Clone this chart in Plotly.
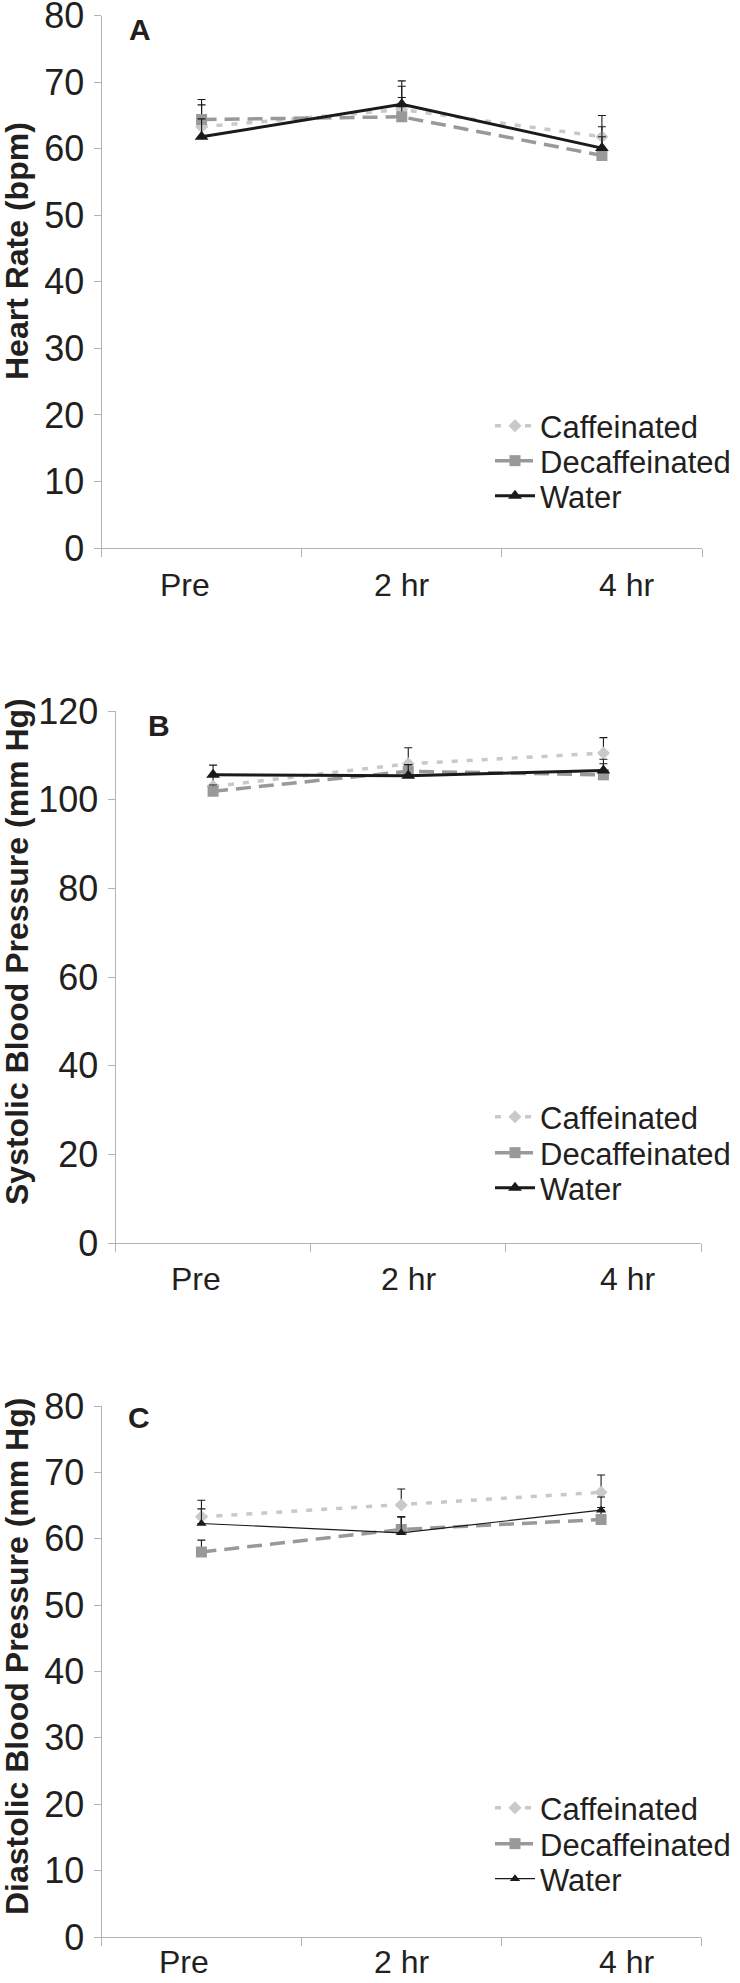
import plotly.graph_objects as go

W, H = 740, 1983

categories = ["Pre", "2 hr", "4 hr"]
series_names = ["Caffeinated", "Decaffeinated", "Water"]

# Panel A - Heart rate (bpm)
hr_caf = [63.3, 65.9, 61.8]
hr_decaf = [64.4, 64.8, 59.0]
hr_water = [61.8, 66.7, 60.1]
hr_caf_err = [3.3, 3.5, 3.2]
hr_decaf_err = [3.0, 2.9, 2.8]
hr_water_err = [2.7, 3.5, 3.2]

# Panel B - Systolic blood pressure (mm Hg)
sbp_caf = [103.0, 108.1, 110.5]
sbp_decaf = [101.9, 106.4, 105.6]
sbp_water = [105.6, 105.4, 106.6]
sbp_caf_err = [2.4, 3.6, 3.5]
sbp_decaf_err = [1.4, 1.5, 2.5]
sbp_water_err = [2.2, 2.5, 2.5]

# Panel C - Diastolic blood pressure (mm Hg)
dbp_caf = [63.3, 65.1, 67.0]
dbp_decaf = [58.0, 61.4, 62.9]
dbp_water = [62.3, 60.9, 64.3]
dbp_caf_err = [2.5, 2.4, 2.6]
dbp_decaf_err = [1.8, 1.9, 1.8]
dbp_water_err = [2.2, 2.4, 2.0]

panel_letters = ["A", "B", "C"]
y_titles = ["Heart Rate (bpm)", "Systolic Blood Pressure (mm Hg)", "Diastolic Blood Pressure (mm Hg)"]
y_ranges = [[0, 80], [0, 120], [0, 80]]
y_dticks = [10, 20, 10]

FONT = "Liberation Sans, Arial, Helvetica, sans-serif"
TXT = "#231f20"
AXC = "#b3b3b3"

# pixel geometry (top/bottom of plot area, left/right)
panels_px = [
    dict(top=15.7, bottom=548, left=101.5, right=702),
    dict(top=711, bottom=1243, left=115.5, right=701),
    dict(top=1406, bottom=1937, left=101.5, right=701),
]

def px(x):
    return x / W

def py(y):
    return 1 - y / H

data = [
    (hr_caf, hr_decaf, hr_water, hr_caf_err, hr_decaf_err, hr_water_err),
    (sbp_caf, sbp_decaf, sbp_water, sbp_caf_err, sbp_decaf_err, sbp_water_err),
    (dbp_caf, dbp_decaf, dbp_water, dbp_caf_err, dbp_decaf_err, dbp_water_err),
]

styles = [
    dict(color="#c9c9c9", dash="6px,9px", width=3.5, symbol="diamond", msize=10),
    dict(color="#999999", dash="15px,8px", width=3.5, symbol="square", msize=11),
    dict(color="#1a1a1a", dash="solid", width=3.0, symbol="triangle-up", msize=12),
]

legend_item_y = [
    [426, 461, 496],
    [1117, 1153, 1188],
    [1808, 1844, 1879],
]

fig = go.Figure()
layout = {}
annotations = []
xs = list(range(len(categories)))
legend_idx = 0

for p in range(3):
    sfx = "" if p == 0 else str(p + 1)
    geo = panels_px[p]
    vals = data[p][:3]
    errs = data[p][3:]
    for s in range(3):
        st = dict(styles[s])
        lw = st["width"]
        ms = st["msize"]
        if p == 2 and s == 2:
            lw = 1.2
            ms = 9
        legend_idx += 1
        lname = "legend" if legend_idx == 1 else "legend" + str(legend_idx)
        fig.add_trace(go.Scatter(
            x=xs, y=vals[s], name=series_names[s],
            mode="lines+markers",
            line=dict(color=st["color"], dash=st["dash"], width=lw),
            marker=dict(symbol=st["symbol"], size=ms, color=st["color"], line=dict(width=0)),
            error_y=dict(type="data", array=errs[s], symmetric=False, arrayminus=[0] * 3,
                         color="#1a1a1a", thickness=1.1, width=4),
            xaxis="x" + sfx, yaxis="y" + sfx,
            legend=lname, showlegend=True,
        ))
        layout[lname] = dict(
            x=px(490), xanchor="left", y=py(legend_item_y[p][s]), yanchor="middle",
            font=dict(family=FONT, size=31, color=TXT), bgcolor="rgba(0,0,0,0)",
            itemwidth=40, borderwidth=0, tracegroupgap=0,
        )

    layout["xaxis" + sfx] = dict(
        domain=[px(geo["left"]), px(geo["right"])],
        anchor="y" + sfx, range=[-0.5, len(categories) - 0.5],
        tickvals=[i - 0.5 for i in range(len(categories) + 1)],
        ticktext=[""] * (len(categories) + 1),
        ticks="outside", ticklen=8, tickcolor=AXC, tickwidth=1,
        showline=True, linecolor=AXC, linewidth=1,
        showgrid=False, zeroline=False, fixedrange=True, automargin=False,
    )
    layout["yaxis" + sfx] = dict(
        domain=[py(geo["bottom"]), py(geo["top"])],
        anchor="x" + sfx, range=y_ranges[p], dtick=y_dticks[p],
        ticks="outside", ticklen=7, tickcolor=AXC, tickwidth=1,
        showline=True, linecolor=AXC, linewidth=1,
        showgrid=False, zeroline=False, fixedrange=True, automargin=False,
        tickfont=dict(family=FONT, size=36, color=TXT),
        ticklabelstandoff=2, ticklabeloverflow="allow",
    )

    # category labels
    label_offsets = [-0.085, 0.0, 0.125]
    label_y = [585, 1279, 1962][p]
    for i, c in enumerate(categories):
        annotations.append(dict(
            text=c, x=i + label_offsets[i], xref="x" + sfx, y=py(label_y), yref="paper",
            showarrow=False, xanchor="center", yanchor="middle",
            font=dict(family=FONT, size=32, color=TXT),
        ))

    # y title
    title_y = [251, 952, 1657][p]
    annotations.append(dict(
        text="<b>" + y_titles[p] + "</b>", x=px(-3), y=py(title_y), xref="paper", yref="paper",
        showarrow=False, textangle=-90, xanchor="left", yanchor="middle",
        font=dict(family=FONT, size=32, color=TXT),
    ))

    # panel letter
    lx, ly = [(140, 29), (159, 725), (139, 1417)][p]
    annotations.append(dict(
        text="<b>" + panel_letters[p] + "</b>", x=px(lx), y=py(ly), xref="paper", yref="paper",
        showarrow=False, xanchor="center", yanchor="middle",
        font=dict(family=FONT, size=30, color=TXT),
    ))

fig.update_layout(
    width=W, height=H,
    margin=dict(l=0, r=0, t=0, b=0, autoexpand=False),
    paper_bgcolor="white", plot_bgcolor="white",
    annotations=annotations,
    **layout,
)

fig.write_html(
    "out.html",
    config={"displayModeBar": False},
    post_script="document.body.style.margin='0';document.body.style.padding='0';",
)
